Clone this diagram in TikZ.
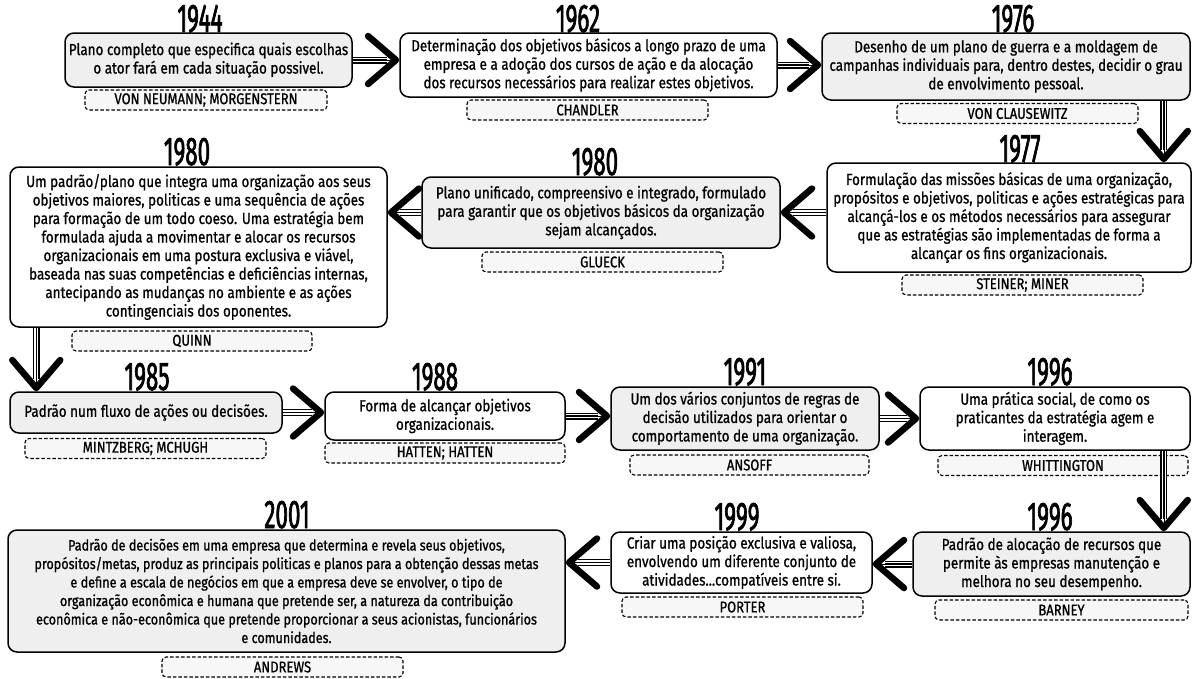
\documentclass[tikz,border=0pt]{standalone}
\usepackage{fontspec}
\setmainfont[FakeStretch=0.84, FakeBold=0.9]{Fira Sans}
\newfontfamily\yearfont[FakeStretch=0.56, FakeBold=1.6]{Fira Sans}
\usetikzlibrary{arrows.meta}
\definecolor{boxgray}{HTML}{EFEFEF}
\definecolor{tagfill}{HTML}{F7F7F7}

\begin{document}
\begin{tikzpicture}[x=1pt,y=-1pt,
  card/.style={draw=black, line width=1.5pt, rounded corners=9pt, align=center,
    inner sep=0pt, font=\fontsize{16}{18.5}\selectfont},
  graycard/.style={card, fill=boxgray},
  whitecard/.style={card, fill=white},
  size/.style 2 args={minimum width=#1pt, minimum height=#2pt},
  tag/.style={draw=black, dash pattern=on 3.5pt off 2pt, line width=1.1pt,
    rounded corners=4pt, fill=tagfill, inner sep=0pt, minimum height=20pt,
    font=\fontsize{15.5}{16}\selectfont},
  yr/.style={inner sep=0pt, anchor=base, font=\yearfont\fontsize{40}{40}\selectfont},
  flow/.style={
    postaction={draw=black, line width=7pt, shorten >=12pt},
    postaction={draw=white, line width=4.2pt, shorten >=12pt},
    postaction={draw=black, line width=1.4pt, shorten >=12pt},
    postaction={draw=black, line width=0.5pt,
      -{Straight Barb[length=28pt, width=48pt, line width=6.5pt, round]}}}
]
\useasboundingbox (0,0) rectangle (1193,678);

% ---- row 1
\node[graycard, size={287}{54}] (a1) at (208.5,60)
  {Plano completo que especifica quais escolhas\\o ator fará em cada situação possivel.};
\node[yr] (y1) at (200,32) {1944};
\node[tag, minimum width=242pt] (t1) at (206,100) {VON NEUMANN; MORGENSTERN};

\node[whitecard, size={377}{64}] (a2) at (588.5,65)
  {Determinação dos objetivos básicos a longo prazo de uma\\empresa e a adoção dos cursos de ação e da alocação\\dos recursos necessários para realizar estes objetivos.};
\node[yr] (y2) at (578,32) {1962};
\node[tag, minimum width=241pt] (t2) at (587.5,110) {CHANDLER};

\node[graycard, size={368}{67}] (a3) at (1006,66.5)
  {Desenho de um plano de guerra e a moldagem de\\campanhas individuais para, dentro destes, decidir o grau\\de envolvimento pessoal.};
\node[yr] (y3) at (1013,32) {1976};
\node[tag, minimum width=241pt] (t3) at (1017.5,113.5) {VON CLAUSEWITZ};

% ---- row 2
\node[whitecard, size={364}{109}] (a4) at (1009,217.5)
  {Formulação das missões básicas de uma organização,\\propósitos e objetivos, politicas e ações estratégicas para\\alcançá-los e os métodos necessários para assegurar\\que as estratégias são implementadas de forma a\\alcançar os fins organizacionais.};
\node[yr] (y4) at (1020,162) {1977};
\node[tag, minimum width=241pt] (t4) at (1022.5,285) {STEINER; MINER};

\node[graycard, size={358}{71}] (a5) at (601,212.5)
  {Plano unificado, compreensivo e integrado, formulado\\para garantir que os objetivos básicos da organização\\sejam alcançados.};
\node[yr] (y5) at (595,175) {1980};
\node[tag, minimum width=241pt] (t5) at (602.5,262) {GLUECK};

\node[whitecard, size={377}{160}] (a6) at (198.5,247)
  {Um padrão/plano que integra uma organização aos seus\\objetivos maiores, politicas e uma sequência de ações\\para formação de um todo coeso. Uma estratégia bem\\formulada ajuda a movimentar e alocar os recursos\\organizacionais em uma postura exclusiva e viável,\\baseada nas suas competências e deficiências internas,\\antecipando as mudanças no ambiente e as ações\\contingenciais dos oponentes.};
\node[yr] (y6) at (187,165) {1980};
\node[tag, minimum width=240pt] (t6) at (192,341) {QUINN};

% ---- row 3
\node[graycard, size={272}{41}] (a7) at (146,412.5)
  {Padrão num fluxo de ações ou decisões.};
\node[yr] (y7) at (147,390) {1985};
\node[tag, minimum width=241pt] (t7) at (145.5,448.5) {MINTZBERG; MCHUGH};

\node[whitecard, size={240}{48}] (a8) at (445,416)
  {Forma de alcançar objetivos\\organizacionais.};
\node[yr] (y8) at (435,390) {1988};
\node[tag, minimum width=240pt] (t8) at (445,453) {HATTEN; HATTEN};

\node[graycard, size={268}{63}] (a9) at (745,418.5)
  {Um dos vários conjuntos de regras de\\decisão utilizados para orientar o\\comportamento de uma organização.};
\node[yr] (y9) at (745,385) {1991};
\node[tag, minimum width=239pt] (t9) at (749.5,465) {ANSOFF};

\node[whitecard, size={270}{63}] (a10) at (1055,418.5)
  {Uma prática social, de como os\\praticantes da estratégia agem e\\interagem.};
\node[yr] (y10) at (1050,385) {1996};
\node[tag, minimum width=250pt] (t10) at (1063,465.5) {WHITTINGTON};

% ---- row 4
\node[graycard, size={277}{64}] (a11) at (1051.5,564)
  {Padrão de alocação de recursos que\\permite às empresas manutenção e\\melhora no seu desempenho.};
\node[yr] (y11) at (1050,530) {1996};
\node[tag, minimum width=253pt] (t11) at (1061.5,610) {BARNEY};

\node[whitecard, size={261}{61}] (a12) at (741.5,562.5)
  {Criar uma posição exclusiva e valiosa,\\envolvendo um diferente conjunto de\\atividades...compatíveis entre si.};
\node[yr] (y12) at (737,530) {1999};
\node[tag, minimum width=241pt] (t12) at (742.5,607) {PORTER};

\node[graycard, size={557}{122}, font=\fontsize{15}{18.5}\selectfont] (a13) at (286.5,591)
  {Padrão de decisões em uma empresa que determina e revela seus objetivos,\\propósitos/metas, produz as principais politicas e planos para a obtenção dessas metas\\e define a escala de negócios em que a empresa deve se envolver, o tipo de\\organização econômica e humana que pretende ser, a natureza da contribuição\\econômica e não-econômica que pretende proporcionar a seus acionistas, funcionários\\e comunidades.};
\node[yr] (y13) at (287,528) {2001};
\node[tag, minimum width=241pt] (t13) at (282.5,667) {ANDREWS};

% ---- connectors
\path[flow] (a1.east) -- (a1.east -| a2.west);
\path[flow] (a2.east) -- (a2.east -| a3.west);
\path[flow] ([xshift=-27pt]a3.south east) -- ([xshift=-27pt]a3.south east |- a4.north);
\path[flow] (a4.west |- a5.east) -- (a5.east);
\path[flow] (a5.west) -- (a5.west -| a6.east);
\path[flow] ([xshift=27pt]a6.south west) -- ([xshift=27pt]a6.south west |- a7.north);
\path[flow] (a7.east) -- (a7.east -| a8.west);
\path[flow] (a8.east) -- (a8.east -| a9.west);
\path[flow] (a9.east) -- (a9.east -| a10.west);
\path[flow] ([xshift=-27pt]a10.south east) -- ([xshift=-27pt]a10.south east |- a11.north);
\path[flow] (a11.west) -- (a11.west -| a12.east);
\path[flow] (a12.west) -- (a12.west -| a13.east);
\end{tikzpicture}
\end{document}
